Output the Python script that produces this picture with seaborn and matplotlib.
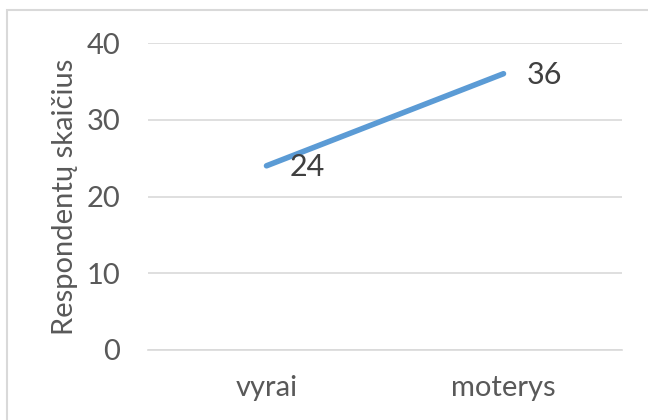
import matplotlib
matplotlib.use("Agg")
import matplotlib.pyplot as plt
from matplotlib.patches import Rectangle
import seaborn as sns
import pandas as pd

# Respondents by gender
categories = ["vyrai", "moterys"]
counts = [24, 36]
y_ticks = [0, 10, 20, 30, 40]
y_label = "Respondentų skaičius"

sns.set_theme(style="white")
plt.rcParams["font.family"] = ["Lato", "DejaVu Sans"]

df = pd.DataFrame({"lytis": categories, "respondentai": counts})

fig = plt.figure(figsize=(6.48, 4.20), dpi=100)
ax = fig.add_axes([148 / 648, 1 - 350 / 420, (622 - 148) / 648, (350 - 43) / 420])

sns.lineplot(data=df, x="lytis", y="respondentai", ax=ax,
             color="#5B9BD5", linewidth=4.0, solid_capstyle="round",
             sort=False)

ax.set_xlim(-0.5, len(categories) - 0.5)
ax.set_ylim(y_ticks[0], y_ticks[-1])
ax.set_yticks(y_ticks)
ax.set_yticklabels([str(t) for t in y_ticks])
ax.yaxis.grid(True, color="#D9D9D9", linewidth=1.2)
ax.xaxis.grid(False)
ax.set_axisbelow(True)
for s in ax.spines.values():
    s.set_visible(False)
ax.spines["bottom"].set_visible(True)
ax.spines["bottom"].set_color("#D9D9D9")
ax.spines["bottom"].set_linewidth(1.2)

ax.tick_params(axis="y", length=0, pad=20, labelsize=21, labelcolor="#595959")
ax.tick_params(axis="x", length=0, pad=18, labelsize=21, labelcolor="#595959")
ax.set_xlabel("")
ax.set_ylabel(y_label, fontsize=21, color="#595959", labelpad=6)

# Value labels to the right of each point
for i, v in enumerate(counts):
    ax.annotate(str(v), xy=(i, v), xytext=(17, -1), textcoords="offset points",
                ha="left", va="center", fontsize=22, color="#404040")

# Light frame around the chart area
fig.patches.append(Rectangle((7 / 648, -0.1), 1.2, 1 - 10 / 420 + 0.1,
                             transform=fig.transFigure, fill=False,
                             edgecolor="#D9D9D9", linewidth=1.5))

fig.savefig("out.png", dpi=100)
